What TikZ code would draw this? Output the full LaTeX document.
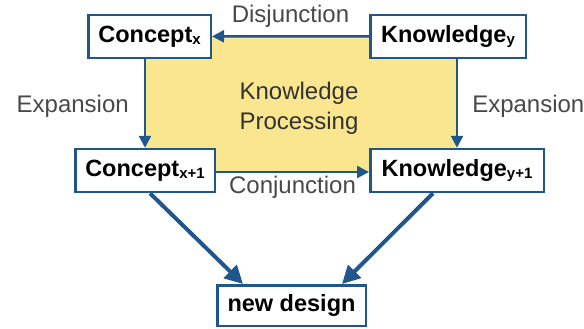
\documentclass[tikz,border=0pt]{standalone}
\usepackage{fontspec}
\setmainfont{Liberation Sans}
\usetikzlibrary{arrows.meta}
\definecolor{ourblue}{RGB}{31,86,140}
\definecolor{padyellow}{RGB}{249,230,142}
\definecolor{textgray}{RGB}{72,72,72}
\newcommand{\lowidx}[1]{\raisebox{-2pt}{\fontsize{15}{15}\selectfont #1}}

\tikzstyle{box} = [draw=ourblue, line width=2.5pt, fill=white, inner sep=0pt, font=\bfseries\fontsize{23.5}{26}\selectfont]
\tikzstyle{edge} = [draw=ourblue, line width=2.5pt, -{Triangle[length=12pt,width=12pt]}]
\tikzstyle{big edge} = [draw=ourblue, line width=4pt, -{Triangle[length=18pt,width=18pt]}]
\tikzstyle{arrow text} = [text=textgray, inner sep=0pt, font=\fontsize{24}{30}\selectfont]

\begin{document}
\begin{tikzpicture}[x=1pt, y=-1pt]
       \useasboundingbox (0,0) rectangle (584,329);
       \fill[padyellow] (145,36) rectangle (457,172);
       \node[arrow text, text=black!80, align=center] (kp) at (299,108) {Knowledge\\Processing};
       \foreach \pos/\name/\w/\h/\txt in {{(149.5,36.3)/cx/122.5/43/{Concept\lowidx{x}}}, {(448,36.5)/ky/155.5/43/{Knowledge\lowidx{y}}}, {(145,170.5)/cxn/139.5/43/{Concept\lowidx{x+1}}}, {(457,170.5)/kyn/173.5/43/{Knowledge\lowidx{y+1}}}, {(291.5,305.5)/design/148.5/40.5/{new design}}} {
           \node[box, minimum width=\w pt, minimum height=\h pt] (\name) at \pos {\txt};
       }
       \path[edge] (ky) -- node[arrow text, above=8pt] {Disjunction} (cx);
       \path[edge] ([xshift=-4.5pt]cx.south) -- node[arrow text, left=15pt, yshift=-3pt] {Expansion} (cxn.north);
       \path[edge] ([xshift=9pt]ky.south) -- node[arrow text, right=14pt, yshift=-3pt] {Expansion} (kyn.north);
       \path[edge] ([yshift=-1.5pt]cxn.east) -- node[arrow text, below=3pt] {Conjunction} ([yshift=-1.5pt]kyn.west);
       \path[big edge] ([xshift=5pt]cxn.south) -- ([xshift=-48.5pt]design.north);
       \path[big edge] ([xshift=-24pt]kyn.south) -- ([xshift=50.5pt]design.north);
\end{tikzpicture}
\end{document}
